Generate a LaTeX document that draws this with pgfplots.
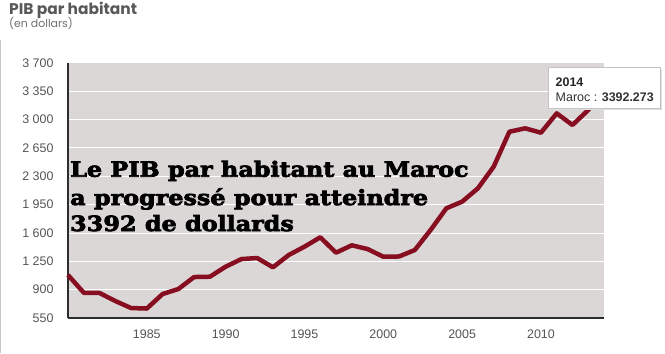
\documentclass[border=0pt]{standalone}
\usepackage{fontspec}
\usepackage{pgfplots}
\pgfplotsset{compat=1.18}
\setmainfont{Liberation Sans}
\newfontfamily\titlefont{Poppins}
\newfontfamily\slab[BoldFeatures={FakeBold=3.5, FakeStretch=1.14}]{DejaVu Serif}
\definecolor{bggray}{RGB}{219,215,215}
\definecolor{linered}{RGB}{135,14,32}
\definecolor{ticktxt}{RGB}{85,85,85}
\definecolor{titletxt}{RGB}{88,88,88}
\definecolor{axisdark}{RGB}{45,45,45}
\begin{document}
\begin{tikzpicture}[x=1bp,y=1bp]
\useasboundingbox (0,0) rectangle (665,353);
\fill[white] (0,0) rectangle (665,353);
\draw[color={rgb,255:red,200;green,200;blue,200},line width=1.2bp] (0.8,0) -- (0.8,313);
\begin{axis}[
  at={(68bp,35bp)}, anchor=south west,
  width=536bp, height=255bp, scale only axis,
  xmin=1980, xmax=2014, ymin=550, ymax=3700,
  xtick={1985,1990,1995,2000,2005,2010},
  ytick={550,900,1250,1600,1950,2300,2650,3000,3350,3700},
  axis background/.style={fill=bggray},
  ymajorgrids, grid style={white, line width=1bp},
  axis x line*=bottom, axis y line*=left,
  axis line style={-, axisdark, line width=1.3bp},
  major tick length=0pt,
  /pgf/number format/assume math mode=true,
  tick label style={font=\fontsize{12.5}{14}\selectfont, text=ticktxt},
  yticklabel style={/pgf/number format/1000 sep={\ }, xshift=-11bp},
  xticklabel style={/pgf/number format/1000 sep={}, yshift=-8bp},
  clip=false,
]
\addplot[linered, line width=4.5bp, line join=round] coordinates {
(1980,1081) (1981,862) (1982,859) (1983,760) (1984,673) (1985,667)
(1986,846) (1987,908) (1988,1056) (1989,1060) (1990,1184) (1991,1278)
(1992,1291) (1993,1176) (1994,1328) (1995,1431) (1996,1547) (1997,1357)
(1998,1448) (1999,1402) (2000,1307) (2001,1310) (2002,1390) (2003,1637)
(2004,1905) (2005,1987) (2006,2152) (2007,2419) (2008,2851) (2009,2893)
(2010,2839) (2011,3078) (2012,2934) (2013,3119) (2014,3392.273)
};
\end{axis}
% title
\node[anchor=base west, inner sep=0, text=titletxt, font=\titlefont\bfseries\fontsize{15.5}{18}\selectfont] at (9,338.7) {PIB par habitant};
\node[anchor=base west, inner sep=0, text=titletxt!85, font=\titlefont\fontsize{11}{13}\selectfont] at (9,325.5) {(en dollars)};
% overlay text
\node[anchor=base west, inner sep=0, font=\slab\bfseries\fontsize{21}{24}\selectfont] at (70,176.3) {Le PIB par habitant au Maroc};
\node[anchor=base west, inner sep=0, font=\slab\bfseries\fontsize{21}{24}\selectfont] at (70,148) {a progressé pour atteindre};
\node[anchor=base west, inner sep=0, font=\slab\bfseries\fontsize{21}{24}\selectfont] at (70,122) {3392 de dollards};
% tooltip
\fill[black!12] (549.5,243.5) rectangle (661.5,284.5);
\filldraw[fill=white, draw={rgb,255:red,195;green,195;blue,195}, line width=0.8bp] (548,245) rectangle (660,286);
\node[anchor=base west, inner sep=0, text=black!85, font=\bfseries\fontsize{12.5}{14}\selectfont] at (555.5,266.5) {2014};
\node[anchor=base west, inner sep=0, text=black!80, font=\fontsize{12.5}{14}\selectfont] at (555.5,251.5) {Maroc : \textbf{3392.273}};
\end{tikzpicture}
\end{document}
